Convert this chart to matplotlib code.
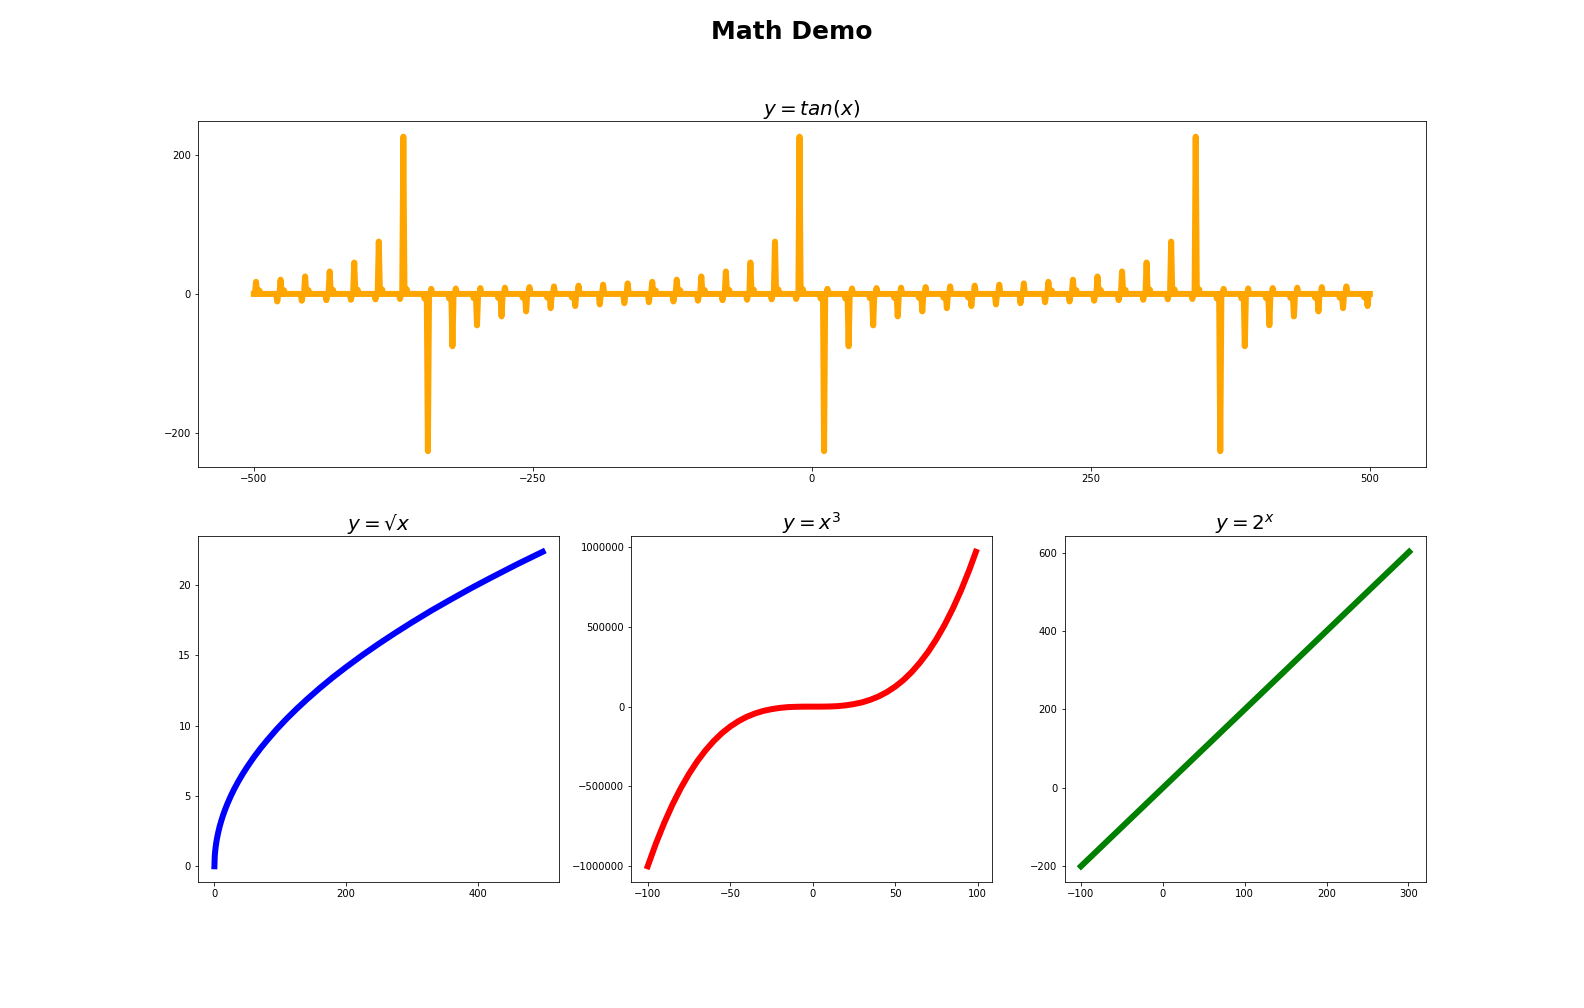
import numpy as np
import matplotlib
matplotlib.use("Agg")
import matplotlib.pyplot as plt

# ---------------- data ----------------
# top panel: y = tan(x), sampled on the integer grid -500..500
tan_grid_start = -500
tan_grid_stop = 500
# sample positions where the curve leaves the near-zero band, and their values
tan_spike_x = [
    -498, -495, -479, -476, -473, -457, -454, -451, -435, -432, -429,
    -413, -410, -407, -391, -388, -385, -369, -366, -363,
    -347, -344, -341, -325, -322, -319, -303, -300, -297, -281, -278, -275,
    -259, -256, -253, -237, -234, -231, -215, -212, -209, -190, -187,
    -168, -165, -146, -143, -140, -124, -121, -118, -102, -99, -96,
    -80, -77, -74, -58, -55, -52, -36, -33, -30, -14, -11, -8,
    8, 11, 14, 30, 33, 36, 52, 55, 58, 74, 77, 80, 96, 99, 102,
    118, 121, 124, 140, 143, 146, 165, 168, 187, 190,
    209, 212, 215, 231, 234, 237, 253, 256, 259, 275, 278, 281,
    297, 300, 303, 319, 322, 325, 341, 344, 347,
    363, 366, 369, 385, 388, 391, 407, 410, 413, 429, 432, 435,
    451, 454, 457, 473, 476, 479, 495, 498,
]
tan_spike_y = [
    17.4, 5.0, -10.8, 20.5, 5.3, -9.8, 25.1, 5.5, -9.0, 32.3, 5.8,
    -8.4, 45.1, 6.1, -7.8, 75.2, 6.5, -7.3, 226.0, 6.8,
    -6.8, -226.0, 7.3, -6.5, -75.2, 7.8, -6.1, -45.2, 8.4, -5.8, -32.3, 9.0,
    -5.5, -25.1, 9.8, -5.3, -20.5, 10.8, -5.0, -17.4, 11.9, -15.1, 13.3,
    -13.3, 15.1, -11.9, 17.4, 5.0, -10.8, 20.5, 5.3, -9.8, 25.1, 5.5,
    -9.0, 32.3, 5.8, -8.4, 45.2, 6.1, -7.8, 75.2, 6.5, -7.3, 226.0, 6.8,
    -6.8, -226.0, 7.3, -6.5, -75.2, 7.8, -6.1, -45.2, 8.4, -5.8, -32.3, 9.0, -5.5, -25.1, 9.8,
    -5.3, -20.5, 10.8, -5.0, -17.4, 11.9, -15.1, 13.3, -13.3, 15.1,
    -11.9, 17.4, 5.0, -10.8, 20.5, 5.3, -9.8, 25.1, 5.5, -9.0, 32.3, 5.8,
    -8.4, 45.2, 6.1, -7.8, 75.2, 6.5, -7.3, 226.0, 6.8,
    -6.8, -226.0, 7.3, -6.5, -75.2, 7.8, -6.1, -45.1, 8.4, -5.8, -32.3, 9.0,
    -5.5, -25.1, 9.8, -5.3, -20.5, 10.8, -5.0, -17.4,
]
tan_xticks = [-500, -250, 0, 250, 500]
tan_yticks = [-200, 0, 200]

# bottom left: y = sqrt(x)
sqrt_x = [0, 0.5, 1, 2, 3, 4, 6, 8, 10, 13, 16, 20, 25, 30, 36, 43, 50, 60,
          70, 80, 95, 110, 125, 140, 160, 180, 200, 225, 250, 275, 300, 330,
          360, 390, 420, 460, 499]
sqrt_y = [0.0, 0.71, 1.0, 1.41, 1.73, 2.0, 2.45, 2.83, 3.16, 3.61, 4.0, 4.47,
          5.0, 5.48, 6.0, 6.56, 7.07, 7.75, 8.37, 8.94, 9.75, 10.49, 11.18,
          11.83, 12.65, 13.42, 14.14, 15.0, 15.81, 16.58, 17.32, 18.17,
          18.97, 19.75, 20.49, 21.45, 22.34]
sqrt_xticks = [0, 200, 400]
sqrt_yticks = [0, 5, 10, 15, 20]

# bottom middle: y = x^3
cube_x = [-100, -95, -90, -85, -80, -75, -70, -65, -60, -55, -50, -45, -40,
          -35, -30, -25, -20, -15, -10, -5, 0, 5, 10, 15, 20, 25, 30, 35,
          40, 45, 50, 55, 60, 65, 70, 75, 80, 85, 90, 95, 99]
cube_y = [-1000000, -857000, -729000, -614000, -512000, -422000, -343000,
          -275000, -216000, -166000, -125000, -91000, -64000, -43000,
          -27000, -16000, -8000, -3000, -1000, 0, 0, 0, 1000, 3000, 8000,
          16000, 27000, 43000, 64000, 91000, 125000, 166000, 216000,
          275000, 343000, 422000, 512000, 614000, 729000, 857000, 970000]
cube_xticks = [-100, -50, 0, 50, 100]
cube_yticks = [-1000000, -500000, 0, 500000, 1000000]

# bottom right: "y = 2^x" (drawn as a straight line)
lin_x = [-100, 301]
lin_y = [-200, 602]
lin_xticks = [-100, 0, 100, 200, 300]
lin_yticks = [-200, 0, 200, 400, 600]

# ---------------- figure ----------------
plt.rcParams['font.size'] = 10
fig = plt.figure(figsize=(22, 14), dpi=72)
fig.subplots_adjust(left=0.125, right=0.9, top=0.88, bottom=0.125,
                    wspace=0.2, hspace=0.2)
gs = fig.add_gridspec(2, 3)

LW = 6

ax_tan = fig.add_subplot(gs[0, :])
tan_x = np.arange(tan_grid_start, tan_grid_stop + 1)
tan_y = np.zeros(len(tan_x))
tan_y[np.searchsorted(tan_x, tan_spike_x)] = tan_spike_y
ax_tan.plot(tan_x, tan_y, color='orange', linewidth=LW)
ax_tan.set_title(r'$y = tan(x)$', fontsize=20)
ax_tan.set_xticks(tan_xticks)
ax_tan.set_yticks(tan_yticks)

ax1 = fig.add_subplot(gs[1, 0])
ax1.plot(sqrt_x, sqrt_y, color='blue', linewidth=LW)
ax1.set_title(r'$y = √x$', fontsize=20)
ax1.set_xticks(sqrt_xticks)
ax1.set_yticks(sqrt_yticks)

ax2 = fig.add_subplot(gs[1, 1])
ax2.plot(cube_x, cube_y, color='red', linewidth=LW)
ax2.set_title(r'$y = x^3$', fontsize=20)
ax2.set_xticks(cube_xticks)
ax2.set_yticks(cube_yticks)
ax2.ticklabel_format(axis='y', style='plain', useOffset=False)

ax3 = fig.add_subplot(gs[1, 2])
ax3.plot(lin_x, lin_y, color='green', linewidth=LW)
ax3.set_title(r'$y = 2^x$', fontsize=20)
ax3.set_xticks(lin_xticks)
ax3.set_yticks(lin_yticks)

fig.suptitle('Math Demo', fontsize=25, fontweight='bold')

fig.savefig('out.png', dpi=72, facecolor='white')
